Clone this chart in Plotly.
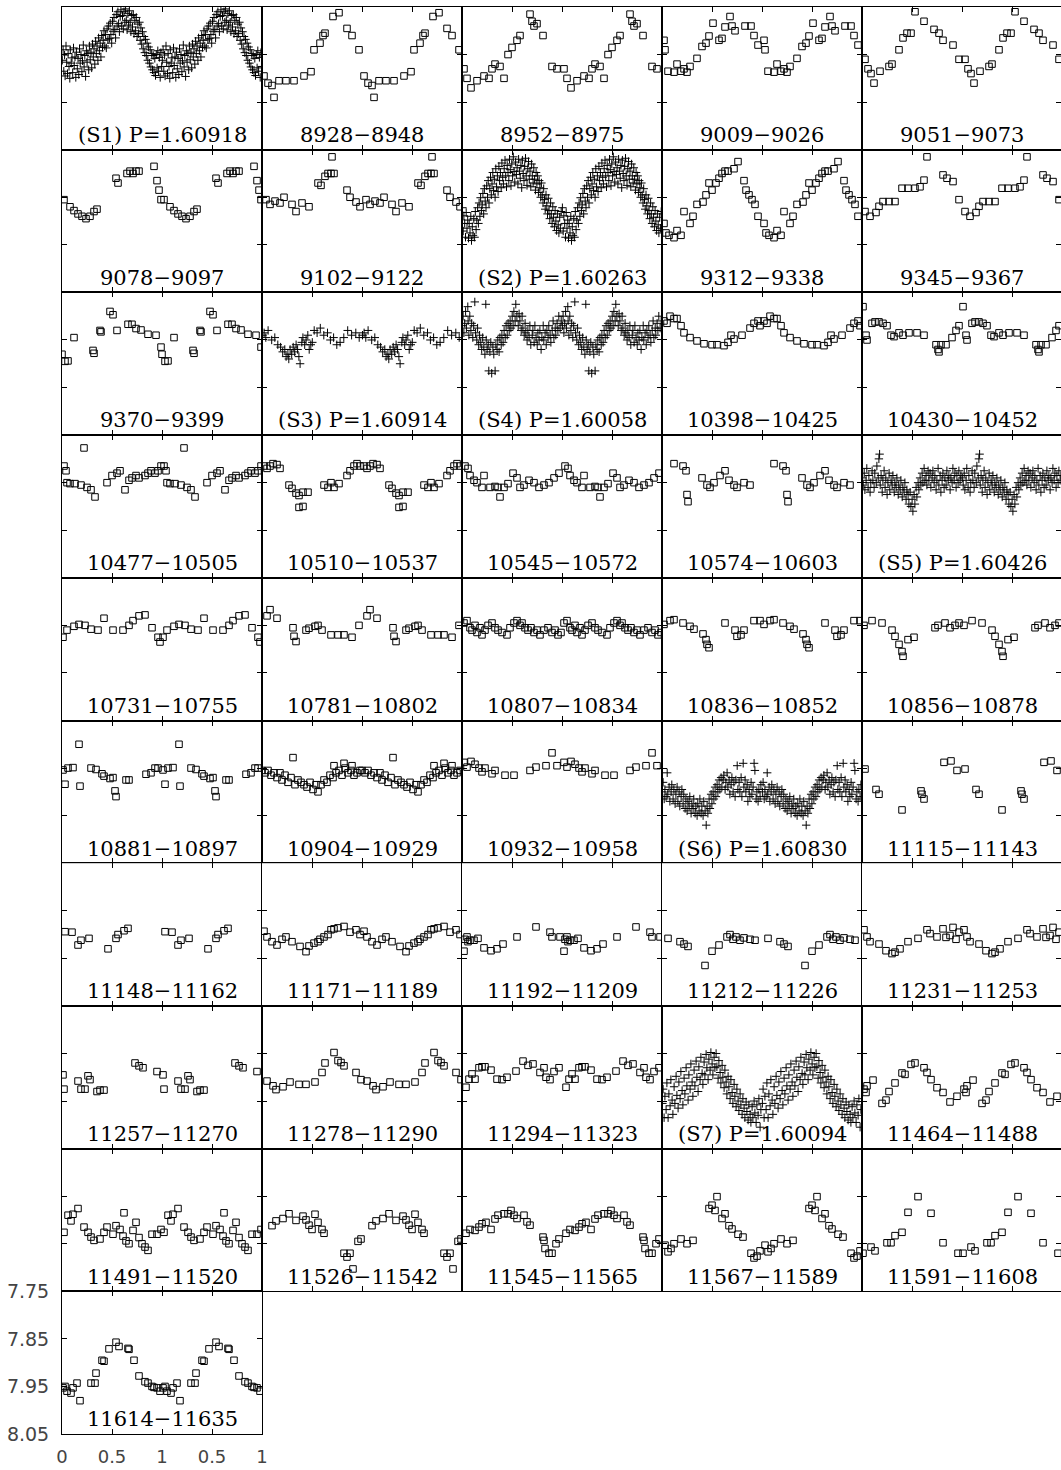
import plotly.graph_objects as go

# ---------------- data: (phase, magnitude) pairs, phase in [0,1); plotted twice (phase and phase+1)
S1 = [(0.003,7.862),(0.011,7.840),(0.018,7.885),(0.026,7.851),(0.031,7.895),(0.040,7.832),(0.047,7.866),(0.055,7.890),
      (0.061,7.848),(0.070,7.875),(0.078,7.900),(0.083,7.840),(0.092,7.868),(0.100,7.857),(0.107,7.888),(0.115,7.836),
      (0.122,7.873),(0.130,7.855),(0.138,7.898),(0.144,7.845),(0.153,7.880),(0.160,7.858),(0.168,7.892),(0.175,7.838),
      (0.182,7.868),(0.190,7.850),(0.199,7.886),(0.205,7.863),(0.213,7.830),(0.221,7.876),(0.228,7.852),(0.236,7.896),
      (0.244,7.842),(0.251,7.866),(0.259,7.848),(0.267,7.882),(0.274,7.832),(0.282,7.861),(0.290,7.845),(0.297,7.878),
      (0.305,7.828),(0.313,7.855),(0.320,7.838),(0.328,7.870),(0.336,7.822),(0.343,7.848),(0.351,7.832),(0.359,7.862),
      (0.366,7.815),(0.374,7.842),(0.382,7.826),(0.389,7.855),(0.397,7.810),(0.405,7.835),(0.412,7.820),(0.420,7.800),
      (0.428,7.832),(0.436,7.808),(0.443,7.836),(0.451,7.796),(0.459,7.819),(0.466,7.790),(0.474,7.816),(0.482,7.784),
      (0.489,7.808),(0.497,7.826),(0.505,7.780),(0.512,7.801),(0.520,7.772),(0.528,7.797),(0.536,7.815),(0.543,7.766),
      (0.551,7.790),(0.559,7.760),(0.566,7.785),(0.574,7.802),(0.582,7.770),(0.589,7.756),(0.597,7.790),(0.605,7.768),
      (0.613,7.796),(0.620,7.760),(0.628,7.782),(0.636,7.754),(0.643,7.778),(0.651,7.798),(0.659,7.764),(0.666,7.788),
      (0.674,7.758),(0.682,7.782),(0.689,7.802),(0.697,7.768),(0.705,7.792),(0.713,7.766),(0.720,7.806),(0.728,7.778),
      (0.736,7.800),(0.743,7.772),(0.751,7.812),(0.759,7.786),(0.766,7.806),(0.774,7.782),(0.782,7.820),(0.789,7.794),
      (0.797,7.828),(0.805,7.802),(0.812,7.838),(0.820,7.812),(0.828,7.846),(0.835,7.818),(0.843,7.852),(0.851,7.826),
      (0.858,7.862),(0.866,7.834),(0.874,7.868),(0.882,7.840),(0.889,7.876),(0.897,7.848),(0.905,7.882),(0.912,7.852),
      (0.920,7.888),(0.928,7.858),(0.935,7.894),(0.943,7.850),(0.951,7.878),(0.958,7.842),(0.966,7.885),(0.974,7.856),
      (0.982,7.898),(0.989,7.846),(0.997,7.875)]
R8928 = [(0.02,7.895),(0.06,7.91),(0.10,7.915),(0.12,7.94),(0.17,7.905),(0.24,7.905),(0.32,7.905),(0.42,7.895),
         (0.49,7.886),(0.52,7.84),(0.58,7.826),(0.61,7.81),(0.63,7.805),(0.71,7.77),(0.77,7.762),(0.85,7.795),
         (0.90,7.81),(0.97,7.84)]
R8952 = [(0.02,7.88),(0.05,7.90),(0.09,7.92),(0.15,7.905),(0.22,7.895),(0.27,7.90),(0.30,7.88),(0.33,7.87),
         (0.38,7.875),(0.42,7.90),(0.46,7.85),(0.50,7.835),(0.55,7.82),(0.58,7.81),(0.68,7.765),(0.70,7.78),
         (0.72,7.79),(0.75,7.785),(0.81,7.81),(0.90,7.875),(0.95,7.88)]
R9009 = [(0.02,7.82),(0.03,7.84),(0.06,7.885),(0.12,7.887),(0.15,7.87),(0.19,7.885),(0.22,7.88),(0.25,7.887),
         (0.28,7.875),(0.35,7.858),(0.40,7.833),(0.44,7.826),(0.47,7.811),(0.51,7.784),(0.57,7.82),(0.60,7.816),
         (0.63,7.792),(0.68,7.77),(0.70,7.79),(0.73,7.80),(0.83,7.79),(0.89,7.79),(0.92,7.81),(0.96,7.83)]
R9051 = [(0.03,7.86),(0.06,7.88),(0.09,7.89),(0.12,7.91),(0.18,7.885),(0.27,7.875),(0.30,7.87),(0.37,7.84),
         (0.41,7.815),(0.45,7.805),(0.49,7.805),(0.53,7.76),(0.62,7.78),(0.72,7.797),(0.77,7.805),(0.81,7.82),
         (0.91,7.83),(0.97,7.86)]
R9078 = [(0.02,7.855),(0.08,7.87),(0.12,7.878),(0.16,7.885),(0.20,7.89),(0.24,7.895),(0.28,7.89),(0.32,7.88),
         (0.35,7.875),(0.54,7.81),(0.56,7.82),(0.65,7.80),(0.68,7.795),(0.71,7.80),(0.74,7.795),(0.77,7.795),
         (0.92,7.785),(0.95,7.815),(0.97,7.835),(0.99,7.855)]
R9102 = [(0.04,7.855),(0.08,7.865),(0.13,7.858),(0.18,7.862),(0.22,7.85),(0.30,7.865),(0.34,7.88),(0.40,7.862),
         (0.47,7.87),(0.56,7.82),(0.59,7.825),(0.63,7.806),(0.66,7.80),(0.69,7.80),(0.70,7.765),(0.72,7.80),
         (0.85,7.835),(0.88,7.85),(0.94,7.86),(0.98,7.87)]
S2 = [(0.004,7.872),(0.012,7.921),(0.019,7.889),(0.027,7.905),(0.035,7.934),(0.042,7.882),(0.050,7.915),(0.057,7.898),
      (0.065,7.936),(0.072,7.905),(0.080,7.925),(0.088,7.890),(0.095,7.941),(0.103,7.912),(0.110,7.930),(0.118,7.895),
      (0.126,7.934),(0.133,7.880),(0.141,7.918),(0.148,7.898),(0.156,7.872),(0.164,7.905),(0.171,7.862),(0.179,7.890),
      (0.186,7.851),(0.194,7.878),(0.202,7.866),(0.209,7.842),(0.217,7.885),(0.224,7.832),(0.232,7.858),(0.240,7.872),
      (0.247,7.826),(0.255,7.850),(0.262,7.815),(0.270,7.862),(0.278,7.832),(0.285,7.808),(0.293,7.845),(0.300,7.822),
      (0.308,7.798),(0.316,7.836),(0.323,7.812),(0.331,7.850),(0.338,7.790),(0.346,7.828),(0.354,7.805),(0.361,7.838),
      (0.369,7.785),(0.376,7.815),(0.384,7.798),(0.392,7.830),(0.399,7.778),(0.407,7.808),(0.414,7.822),(0.422,7.790),
      (0.430,7.772),(0.437,7.805),(0.445,7.828),(0.452,7.783),(0.460,7.798),(0.468,7.815),(0.475,7.770),(0.483,7.792),
      (0.490,7.826),(0.498,7.780),(0.506,7.805),(0.513,7.765),(0.521,7.796),(0.528,7.818),(0.536,7.776),(0.544,7.802),
      (0.551,7.788),(0.559,7.822),(0.566,7.770),(0.574,7.795),(0.582,7.810),(0.589,7.783),(0.597,7.830),(0.604,7.772),
      (0.612,7.800),(0.620,7.815),(0.627,7.785),(0.635,7.768),(0.642,7.805),(0.650,7.825),(0.658,7.790),(0.665,7.775),
      (0.673,7.812),(0.680,7.795),(0.688,7.828),(0.696,7.780),(0.703,7.805),(0.711,7.820),(0.718,7.788),(0.726,7.812),
      (0.734,7.835),(0.741,7.798),(0.749,7.822),(0.756,7.805),(0.764,7.840),(0.772,7.815),(0.779,7.830),(0.787,7.850),
      (0.794,7.820),(0.802,7.845),(0.810,7.862),(0.817,7.832),(0.825,7.855),(0.832,7.875),(0.840,7.845),(0.848,7.868),
      (0.855,7.885),(0.863,7.852),(0.870,7.878),(0.878,7.895),(0.886,7.862),(0.893,7.885),(0.901,7.905),(0.908,7.870),
      (0.916,7.892),(0.924,7.912),(0.931,7.878),(0.939,7.900),(0.946,7.920),(0.954,7.885),(0.962,7.908),(0.969,7.925),
      (0.977,7.892),(0.984,7.915),(0.992,7.880)]
R9312 = [(0.02,7.905),(0.04,7.925),(0.07,7.93),(0.12,7.935),(0.15,7.92),(0.19,7.93),(0.22,7.88),(0.28,7.905),
         (0.31,7.89),(0.35,7.865),(0.41,7.86),(0.44,7.845),(0.47,7.82),(0.50,7.835),(0.54,7.82),(0.57,7.81),
         (0.60,7.80),(0.63,7.795),(0.66,7.795),(0.72,7.79),(0.76,7.775),(0.82,7.815),(0.84,7.835),(0.87,7.845),
         (0.90,7.855),(0.93,7.865),(0.96,7.89)]
R9345 = [(0.03,7.88),(0.08,7.89),(0.14,7.882),(0.17,7.869),(0.21,7.859),(0.27,7.859),(0.33,7.859),(0.40,7.831),
         (0.46,7.831),(0.53,7.831),(0.58,7.828),(0.62,7.814),(0.65,7.765),(0.81,7.803),(0.85,7.81),(0.91,7.817),
         (0.97,7.855)]
R9370 = [(0.00,7.88),(0.03,7.895),(0.06,7.894),(0.12,7.845),(0.31,7.872),(0.32,7.878),(0.38,7.83),(0.39,7.833),
         (0.48,7.79),(0.51,7.797),(0.55,7.83),(0.66,7.817),(0.70,7.817),(0.74,7.826),(0.79,7.829),(0.86,7.838),
         (0.94,7.84),(0.99,7.865)]
S3 = [(0.005,7.84),(0.021,7.835),(0.038,7.845),(0.061,7.83),(0.097,7.85),(0.128,7.845),(0.158,7.86),(0.186,7.865),
      (0.207,7.875),(0.228,7.87),(0.241,7.885),(0.259,7.88),(0.268,7.89),(0.281,7.87),(0.297,7.88),(0.312,7.865),
      (0.327,7.875),(0.341,7.86),(0.356,7.87),(0.369,7.885),(0.381,7.90),(0.398,7.855),(0.409,7.845),(0.427,7.86),
      (0.441,7.85),(0.458,7.84),(0.472,7.87),(0.488,7.86),(0.503,7.855),(0.522,7.83),(0.551,7.835),(0.583,7.825),
      (0.618,7.84),(0.655,7.835),(0.684,7.85),(0.716,7.845),(0.748,7.86),(0.781,7.855),(0.818,7.845),(0.857,7.83),
      (0.896,7.84),(0.938,7.835),(0.972,7.845)]
S4 = [(0.004,7.82),(0.011,7.80),(0.019,7.835),(0.027,7.815),(0.036,7.79),(0.044,7.825),(0.058,7.78),(0.061,7.81),
      (0.069,7.84),(0.078,7.80),(0.089,7.83),(0.097,7.815),(0.108,7.845),(0.117,7.82),(0.128,7.77),(0.136,7.835),
      (0.148,7.85),(0.156,7.825),(0.167,7.86),(0.176,7.84),(0.188,7.855),(0.197,7.87),(0.207,7.845),(0.218,7.865),
      (0.229,7.88),(0.238,7.775),(0.242,7.85),(0.251,7.87),(0.262,7.86),(0.268,7.915),(0.279,7.875),(0.288,7.855),
      (0.297,7.92),(0.309,7.865),(0.318,7.88),(0.331,7.915),(0.339,7.86),(0.351,7.87),(0.358,7.85),(0.371,7.875),
      (0.379,7.845),(0.392,7.86),(0.399,7.84),(0.411,7.855),(0.421,7.83),(0.432,7.845),(0.441,7.82),(0.452,7.84),
      (0.461,7.815),(0.472,7.83),(0.481,7.81),(0.489,7.825),(0.502,7.80),(0.511,7.82),(0.519,7.79),(0.531,7.81),
      (0.538,7.775),(0.549,7.80),(0.562,7.82),(0.571,7.795),(0.579,7.81),(0.592,7.83),(0.601,7.80),(0.609,7.825),
      (0.622,7.84),(0.631,7.815),(0.638,7.835),(0.651,7.85),(0.659,7.83),(0.671,7.845),(0.679,7.82),(0.688,7.86),
      (0.702,7.84),(0.709,7.83),(0.721,7.855),(0.729,7.82),(0.741,7.845),(0.752,7.86),(0.759,7.835),(0.771,7.85),
      (0.779,7.83),(0.791,7.87),(0.799,7.845),(0.812,7.82),(0.818,7.85),(0.831,7.835),(0.842,7.86),(0.849,7.83),
      (0.861,7.845),(0.868,7.82),(0.881,7.84),(0.889,7.855),(0.902,7.83),(0.911,7.81),(0.919,7.845),(0.932,7.825),
      (0.938,7.84),(0.951,7.815),(0.959,7.83),(0.968,7.80),(0.981,7.825),(0.992,7.81)]
R10398 = [(0.02,7.81),(0.05,7.815),(0.08,7.80),(0.12,7.805),(0.15,7.805),(0.19,7.82),(0.22,7.835),(0.28,7.845),
          (0.35,7.852),(0.42,7.858),(0.50,7.86),(0.55,7.86),(0.62,7.862),(0.66,7.855),(0.69,7.84),(0.72,7.848),
          (0.80,7.84),(0.88,7.825),(0.92,7.815),(0.96,7.81),(0.98,7.82)]
R10430 = [(0.01,7.78),(0.04,7.84),(0.05,7.85),(0.10,7.815),(0.13,7.812),(0.17,7.812),(0.21,7.815),(0.25,7.82),
          (0.29,7.84),(0.32,7.843),(0.37,7.835),(0.41,7.84),(0.47,7.835),(0.55,7.835),(0.62,7.84),(0.74,7.86),
          (0.76,7.87),(0.77,7.875),(0.79,7.86),(0.84,7.86),(0.90,7.845),(0.94,7.83),(0.97,7.82)]
R10477 = [(0.02,7.815),(0.04,7.825),(0.05,7.85),(0.08,7.852),(0.13,7.852),(0.19,7.855),(0.22,7.777),(0.25,7.86),
          (0.29,7.865),(0.33,7.88),(0.45,7.85),(0.50,7.835),(0.55,7.83),(0.58,7.825),(0.63,7.865),(0.67,7.845),
          (0.70,7.84),(0.74,7.835),(0.77,7.84),(0.83,7.835),(0.86,7.83),(0.89,7.825),(0.93,7.83),(0.96,7.825),
          (0.99,7.815)]
R10510 = [(0.02,7.815),(0.05,7.82),(0.08,7.815),(0.11,7.81),(0.15,7.812),(0.18,7.82),(0.27,7.855),(0.30,7.862),
          (0.34,7.872),(0.37,7.877),(0.37,7.902),(0.41,7.90),(0.41,7.87),(0.46,7.87),(0.62,7.855),(0.66,7.86),
          (0.69,7.85),(0.72,7.86),(0.77,7.852),(0.85,7.835),(0.88,7.825),(0.92,7.815),(0.95,7.81),(0.98,7.815)]
R10545 = [(0.03,7.815),(0.06,7.82),(0.08,7.835),(0.12,7.845),(0.15,7.85),(0.20,7.86),(0.22,7.835),(0.28,7.86),
          (0.33,7.858),(0.36,7.86),(0.38,7.88),(0.42,7.86),(0.46,7.852),(0.51,7.83),(0.55,7.84),(0.58,7.86),
          (0.62,7.855),(0.67,7.845),(0.72,7.85),(0.77,7.86),(0.82,7.855),(0.87,7.85),(0.92,7.84),(0.97,7.83)]
R10574 = [(0.12,7.81),(0.21,7.815),(0.24,7.825),(0.25,7.875),(0.26,7.89),(0.40,7.84),(0.45,7.855),(0.48,7.86),
          (0.52,7.85),(0.58,7.835),(0.63,7.825),(0.67,7.845),(0.72,7.855),(0.75,7.86),(0.82,7.85),(0.88,7.855)]
S5 = [(0.003,7.84),(0.012,7.855),(0.022,7.83),(0.029,7.865),(0.041,7.845),(0.048,7.82),(0.061,7.86),(0.069,7.835),
      (0.081,7.87),(0.088,7.85),(0.101,7.825),(0.109,7.845),(0.121,7.86),(0.128,7.83),(0.142,7.85),(0.149,7.815),
      (0.162,7.84),(0.169,7.80),(0.176,7.79),(0.182,7.855),(0.191,7.835),(0.202,7.87),(0.209,7.845),(0.221,7.825),
      (0.231,7.86),(0.238,7.84),(0.251,7.875),(0.259,7.85),(0.271,7.83),(0.278,7.865),(0.291,7.845),(0.301,7.855),
      (0.309,7.835),(0.322,7.87),(0.329,7.85),(0.341,7.86),(0.349,7.84),(0.362,7.875),(0.368,7.855),(0.381,7.865),
      (0.389,7.845),(0.402,7.88),(0.409,7.86),(0.421,7.87),(0.429,7.85),(0.441,7.885),(0.449,7.865),(0.461,7.875),
      (0.469,7.895),(0.481,7.87),(0.489,7.90),(0.501,7.885),(0.509,7.91),(0.521,7.875),(0.529,7.895),(0.541,7.86),
      (0.549,7.88),(0.561,7.85),(0.569,7.865),(0.581,7.84),(0.589,7.855),(0.601,7.83),(0.609,7.85),(0.621,7.82),
      (0.629,7.845),(0.641,7.835),(0.649,7.855),(0.661,7.825),(0.669,7.845),(0.681,7.83),(0.689,7.86),(0.701,7.84),
      (0.709,7.825),(0.721,7.85),(0.729,7.835),(0.741,7.865),(0.749,7.845),(0.761,7.82),(0.769,7.855),(0.781,7.835),
      (0.789,7.87),(0.801,7.845),(0.809,7.83),(0.821,7.86),(0.829,7.84),(0.841,7.855),(0.849,7.825),(0.861,7.845),
      (0.869,7.835),(0.881,7.865),(0.889,7.84),(0.901,7.85),(0.909,7.82),(0.921,7.845),(0.929,7.83),(0.941,7.86),
      (0.949,7.835),(0.961,7.85),(0.969,7.825),(0.981,7.845),(0.989,7.835)]
R10731 = [(0.01,7.875),(0.05,7.86),(0.12,7.852),(0.17,7.848),(0.23,7.85),(0.29,7.858),(0.36,7.86),(0.42,7.835),
          (0.51,7.86),(0.61,7.86),(0.67,7.85),(0.71,7.84),(0.77,7.83),(0.83,7.828),(0.90,7.855),(0.96,7.875),
          (0.98,7.885)]
R10781 = [(0.05,7.83),(0.08,7.817),(0.15,7.835),(0.31,7.855),(0.32,7.873),(0.34,7.884),(0.44,7.86),(0.47,7.856),
          (0.53,7.852),(0.56,7.85),(0.60,7.86),(0.69,7.87),(0.76,7.87),(0.82,7.87),(0.90,7.875),(0.97,7.85)]
R10807 = [(0.02,7.845),(0.05,7.84),(0.08,7.855),(0.10,7.86),(0.13,7.85),(0.15,7.865),(0.18,7.855),(0.20,7.87),
          (0.23,7.86),(0.26,7.85),(0.30,7.845),(0.33,7.855),(0.36,7.86),(0.40,7.865),(0.45,7.87),(0.48,7.855),
          (0.52,7.845),(0.55,7.84),(0.58,7.85),(0.60,7.845),(0.63,7.855),(0.66,7.86),(0.69,7.855),(0.72,7.865),
          (0.75,7.86),(0.78,7.87),(0.82,7.86),(0.86,7.855),(0.90,7.865),(0.93,7.86),(0.96,7.87),(0.99,7.865)]
R10836 = [(0.02,7.848),(0.08,7.84),(0.12,7.838),(0.21,7.845),(0.28,7.852),(0.32,7.858),(0.41,7.868),(0.44,7.88),
          (0.45,7.89),(0.47,7.897),(0.63,7.845),(0.73,7.86),(0.75,7.873),(0.79,7.87),(0.82,7.86),(0.92,7.84),
          (0.98,7.84)]
R10856 = [(0.02,7.85),(0.10,7.84),(0.20,7.845),(0.30,7.86),(0.33,7.873),(0.37,7.89),(0.40,7.905),(0.41,7.915),
          (0.46,7.88),(0.52,7.875),(0.73,7.855),(0.76,7.85),(0.83,7.845),(0.88,7.855),(0.93,7.85),(0.97,7.845)]
R10881 = [(0.01,7.854),(0.03,7.884),(0.06,7.85),(0.11,7.849),(0.17,7.80),(0.18,7.888),(0.29,7.85),(0.34,7.853),
          (0.40,7.862),(0.42,7.867),(0.48,7.872),(0.51,7.87),(0.53,7.898),(0.54,7.91),(0.64,7.875),(0.67,7.875),
          (0.84,7.863),(0.89,7.86),(0.93,7.85),(0.96,7.85)]
R10904 = [(0.00,7.855),(0.03,7.86),(0.06,7.855),(0.09,7.865),(0.12,7.86),(0.15,7.87),(0.18,7.86),(0.20,7.875),
          (0.23,7.865),(0.26,7.88),(0.29,7.87),(0.31,7.828),(0.33,7.885),(0.36,7.875),(0.39,7.88),(0.42,7.885),
          (0.45,7.89),(0.48,7.88),(0.51,7.895),(0.54,7.885),(0.56,7.90),(0.59,7.885),(0.62,7.875),(0.65,7.88),
          (0.68,7.865),(0.71,7.87),(0.72,7.845),(0.74,7.86),(0.77,7.855),(0.80,7.865),(0.82,7.84),(0.83,7.85),
          (0.86,7.86),(0.89,7.855),(0.90,7.845),(0.92,7.865),(0.95,7.86),(0.98,7.855)]
R10932 = [(0.02,7.838),(0.05,7.848),(0.09,7.836),(0.13,7.842),(0.17,7.85),(0.20,7.858),(0.23,7.85),(0.30,7.862),
          (0.33,7.855),(0.43,7.865),(0.52,7.865),(0.68,7.855),(0.74,7.848),(0.84,7.845),(0.90,7.818),(0.95,7.845)]
S6 = [(0.004,7.90),(0.011,7.88),(0.022,7.915),(0.029,7.895),(0.041,7.91),(0.052,7.86),(0.058,7.905),(0.071,7.89),
      (0.079,7.92),(0.091,7.90),(0.098,7.885),(0.111,7.915),(0.119,7.895),(0.131,7.925),(0.139,7.905),(0.151,7.89),
      (0.159,7.92),(0.171,7.90),(0.178,7.93),(0.191,7.91),(0.199,7.895),(0.211,7.925),(0.218,7.905),(0.231,7.935),
      (0.239,7.915),(0.251,7.94),(0.259,7.92),(0.271,7.93),(0.278,7.91),(0.291,7.945),(0.299,7.925),(0.311,7.935),
      (0.318,7.915),(0.331,7.945),(0.339,7.93),(0.351,7.95),(0.358,7.925),(0.371,7.94),(0.379,7.915),(0.391,7.945),
      (0.399,7.93),(0.411,7.95),(0.418,7.92),(0.431,7.94),(0.442,7.97),(0.451,7.93),(0.459,7.945),(0.471,7.915),
      (0.479,7.935),(0.491,7.905),(0.499,7.925),(0.511,7.90),(0.519,7.915),(0.531,7.89),(0.539,7.91),(0.551,7.885),
      (0.559,7.90),(0.571,7.875),(0.579,7.895),(0.591,7.87),(0.599,7.89),(0.611,7.875),(0.619,7.865),(0.631,7.895),
      (0.639,7.88),(0.651,7.86),(0.659,7.89),(0.671,7.875),(0.679,7.905),(0.691,7.885),(0.699,7.87),(0.711,7.90),
      (0.719,7.88),(0.731,7.91),(0.739,7.875),(0.752,7.845),(0.759,7.895),(0.771,7.88),(0.779,7.90),(0.791,7.87),
      (0.799,7.91),(0.812,7.84),(0.819,7.89),(0.831,7.875),(0.839,7.90),(0.851,7.885),(0.859,7.92),(0.871,7.895),
      (0.879,7.91),(0.891,7.88),(0.899,7.905),(0.911,7.89),(0.921,7.84),(0.929,7.855),(0.941,7.915),(0.949,7.90),
      (0.961,7.92),(0.969,7.895),(0.981,7.91),(0.989,7.885)]
R11115 = [(0.03,7.852),(0.14,7.895),(0.17,7.905),(0.40,7.938),(0.59,7.898),(0.60,7.905),(0.62,7.915),(0.82,7.838),
          (0.89,7.835),(0.95,7.855)]
R11148 = [(0.03,7.894),(0.10,7.895),(0.16,7.922),(0.19,7.912),(0.27,7.908),(0.46,7.93),(0.54,7.908),(0.56,7.90),
          (0.62,7.892),(0.66,7.887)]
R11171 = [(0.02,7.893),(0.05,7.905),(0.10,7.915),(0.15,7.922),(0.20,7.91),(0.24,7.905),(0.30,7.915),(0.38,7.925),
          (0.44,7.936),(0.47,7.924),(0.52,7.918),(0.56,7.915),(0.58,7.91),(0.62,7.905),(0.66,7.90),(0.69,7.89),
          (0.72,7.888),(0.76,7.886),(0.82,7.883),(0.88,7.895),(0.94,7.89),(0.98,7.90)]
R11192 = [(0.02,7.935),(0.03,7.91),(0.05,7.905),(0.06,7.915),(0.08,7.912),(0.12,7.912),(0.16,7.908),(0.22,7.928),
          (0.29,7.934),(0.35,7.93),(0.41,7.92),(0.55,7.905),(0.74,7.884),(0.88,7.895),(0.90,7.905),(0.98,7.905)]
R11212 = [(0.06,7.908),(0.18,7.915),(0.22,7.92),(0.26,7.925),(0.43,7.965),(0.50,7.935),(0.57,7.922),(0.65,7.905),
          (0.68,7.90),(0.71,7.91),(0.74,7.905),(0.78,7.912),(0.82,7.907),(0.88,7.91),(0.93,7.912)]
R11231 = [(0.02,7.89),(0.05,7.905),(0.08,7.915),(0.17,7.92),(0.24,7.934),(0.30,7.94),(0.33,7.937),(0.38,7.93),
          (0.46,7.915),(0.56,7.908),(0.65,7.89),(0.68,7.898),(0.75,7.905),(0.81,7.888),(0.84,7.906),(0.88,7.902),
          (0.91,7.885),(0.94,7.91),(0.97,7.895)]
R11257 = [(0.01,7.895),(0.02,7.925),(0.16,7.908),(0.19,7.925),(0.23,7.925),(0.26,7.897),(0.28,7.905),(0.35,7.93),
          (0.38,7.927),(0.42,7.927),(0.73,7.87),(0.77,7.876),(0.81,7.88),(0.95,7.888)]
R11278 = [(0.05,7.908),(0.11,7.918),(0.14,7.926),(0.21,7.92),(0.28,7.91),(0.37,7.915),(0.44,7.915),(0.53,7.91),
          (0.60,7.89),(0.63,7.87),(0.72,7.848),(0.76,7.865),(0.79,7.869),(0.82,7.876),(0.94,7.89),(0.99,7.905)]
R11294 = [(0.04,7.921),(0.07,7.904),(0.10,7.893),(0.13,7.904),(0.17,7.88),(0.20,7.878),(0.23,7.878),(0.29,7.885),
          (0.35,7.904),(0.40,7.905),(0.45,7.90),(0.54,7.887),(0.61,7.866),(0.66,7.875),(0.71,7.872),(0.78,7.89),
          (0.82,7.88),(0.84,7.90),(0.88,7.905),(0.92,7.888),(0.97,7.88)]
S7 = [(0.004,7.955),(0.011,7.925),(0.021,7.985),(0.029,7.940),(0.041,7.968),(0.049,7.912),(0.061,7.985),(0.069,7.935),
      (0.081,7.960),(0.089,7.905),(0.101,7.948),(0.109,7.978),(0.121,7.920),(0.129,7.955),(0.141,7.898),(0.149,7.938),
      (0.161,7.965),(0.169,7.910),(0.181,7.945),(0.189,7.888),(0.201,7.928),(0.209,7.958),(0.221,7.902),(0.229,7.935),
      (0.241,7.880),(0.249,7.918),(0.261,7.948),(0.269,7.895),(0.281,7.925),(0.289,7.872),(0.301,7.910),(0.309,7.940),
      (0.321,7.885),(0.329,7.918),(0.341,7.866),(0.349,7.900),(0.361,7.930),(0.369,7.878),(0.381,7.905),(0.389,7.858),
      (0.401,7.892),(0.409,7.915),(0.421,7.868),(0.429,7.895),(0.441,7.852),(0.449,7.880),(0.461,7.905),(0.469,7.862),
      (0.481,7.885),(0.489,7.848),(0.501,7.872),(0.509,7.895),(0.521,7.858),(0.529,7.880),(0.541,7.850),(0.549,7.878),
      (0.561,7.902),(0.569,7.865),(0.581,7.890),(0.589,7.912),(0.601,7.875),(0.609,7.900),(0.621,7.922),(0.629,7.885),
      (0.641,7.910),(0.649,7.935),(0.661,7.898),(0.669,7.920),(0.681,7.945),(0.689,7.905),(0.701,7.932),(0.709,7.955),
      (0.721,7.915),(0.729,7.940),(0.741,7.962),(0.749,7.925),(0.761,7.950),(0.769,7.970),(0.781,7.935),(0.789,7.958),
      (0.801,7.978),(0.809,7.945),(0.821,7.965),(0.829,7.985),(0.841,7.952),(0.849,7.972),(0.861,7.990),(0.869,7.958),
      (0.881,7.978),(0.889,7.995),(0.901,7.962),(0.909,7.985),(0.921,7.950),(0.929,7.975),(0.941,7.995),(0.949,7.958),
      (0.961,7.980),(0.969,7.945),(0.981,8.005),(0.989,7.968)]
R11464 = [(0.02,7.925),(0.04,7.932),(0.05,7.918),(0.11,7.906),(0.20,7.955),(0.24,7.948),(0.27,7.93),(0.33,7.912),
          (0.40,7.891),(0.43,7.894),(0.49,7.873),(0.53,7.87),(0.62,7.88),(0.65,7.89),(0.69,7.905),(0.75,7.922),
          (0.81,7.932),(0.88,7.952),(0.95,7.94)]
R11491 = [(0.02,7.926),(0.06,7.89),(0.09,7.902),(0.11,7.888),(0.16,7.876),(0.22,7.915),(0.26,7.926),(0.29,7.936),
          (0.32,7.943),(0.38,7.94),(0.42,7.926),(0.45,7.915),(0.51,7.93),(0.54,7.912),(0.58,7.92),(0.61,7.934),
          (0.62,7.885),(0.64,7.944),(0.67,7.95),(0.71,7.922),(0.74,7.905),(0.77,7.937),(0.80,7.95),(0.83,7.957),
          (0.86,7.964),(0.90,7.93),(0.95,7.93),(0.99,7.92)]
R11526 = [(0.10,7.912),(0.14,7.902),(0.21,7.897),(0.27,7.887),(0.34,7.901),(0.41,7.892),(0.44,7.90),(0.47,7.911),
          (0.50,7.92),(0.53,7.888),(0.56,7.905),(0.60,7.92),(0.62,7.928),(0.82,7.97),(0.85,7.978),(0.88,7.97),
          (0.91,8.003),(0.96,7.945),(0.99,7.94)]
R11545 = [(0.04,7.928),(0.08,7.92),(0.13,7.922),(0.17,7.915),(0.20,7.908),(0.24,7.905),(0.29,7.92),(0.33,7.898),
          (0.36,7.89),(0.42,7.887),(0.46,7.887),(0.49,7.88),(0.52,7.89),(0.55,7.897),(0.62,7.89),(0.65,7.904),
          (0.68,7.911),(0.81,7.936),(0.82,7.943),(0.83,7.96),(0.87,7.97),(0.90,7.97),(0.94,7.95),(0.97,7.94)]
R11567 = [(0.03,7.953),(0.06,7.967),(0.09,7.96),(0.12,7.95),(0.19,7.94),(0.25,7.95),(0.31,7.943),(0.47,7.876),
          (0.50,7.869),(0.53,7.88),(0.55,7.851),(0.60,7.897),(0.63,7.887),(0.67,7.912),(0.70,7.919),(0.76,7.93),
          (0.81,7.936),(0.89,7.97),(0.92,7.98),(0.95,7.976),(0.98,7.965)]
R11591 = [(0.01,7.97),(0.09,7.957),(0.13,7.965),(0.25,7.948),(0.29,7.948),(0.33,7.933),(0.40,7.926),(0.46,7.884),
          (0.56,7.851),(0.69,7.886),(0.81,7.948),(0.96,7.97)]
R11614 = [(0.01,7.953),(0.03,7.95),(0.05,7.96),(0.09,7.964),(0.11,7.953),(0.15,7.943),(0.18,7.98),(0.29,7.943),
          (0.33,7.943),(0.34,7.922),(0.40,7.895),(0.42,7.897),(0.47,7.871),(0.54,7.857),(0.57,7.866),(0.66,7.87),
          (0.67,7.872),(0.72,7.895),(0.77,7.928),(0.83,7.94),(0.86,7.943),(0.90,7.95),(0.92,7.952),(0.95,7.953),
          (0.98,7.96)]

panel_labels = ["(S1) P=1.60918", "8928−8948", "8952−8975", "9009−9026", "9051−9073",
                "9078−9097", "9102−9122", "(S2) P=1.60263", "9312−9338", "9345−9367",
                "9370−9399", "(S3) P=1.60914", "(S4) P=1.60058", "10398−10425", "10430−10452",
                "10477−10505", "10510−10537", "10545−10572", "10574−10603", "(S5) P=1.60426",
                "10731−10755", "10781−10802", "10807−10834", "10836−10852", "10856−10878",
                "10881−10897", "10904−10929", "10932−10958", "(S6) P=1.60830", "11115−11143",
                "11148−11162", "11171−11189", "11192−11209", "11212−11226", "11231−11253",
                "11257−11270", "11278−11290", "11294−11323", "(S7) P=1.60094", "11464−11488",
                "11491−11520", "11526−11542", "11545−11565", "11567−11589", "11591−11608",
                "11614−11635"]
panel_data = [S1, R8928, R8952, R9009, R9051, R9078, R9102, S2, R9312, R9345,
              R9370, S3, S4, R10398, R10430, R10477, R10510, R10545, R10574, S5,
              R10731, R10781, R10807, R10836, R10856, R10881, R10904, R10932, S6, R11115,
              R11148, R11171, R11192, R11212, R11231, R11257, R11278, R11294, S7, R11464,
              R11491, R11526, R11545, R11567, R11591, R11614]

x_tick_vals = [0, 0.5, 1, 1.5, 2]
x_tick_text = ["0", "0.5", "1", "0.5", "1"]
y_tick_vals = [7.75, 7.85, 7.95, 8.05]
y_tick_text = ["7.75", "7.85", "7.95", "8.05"]

# ---------------- layout geometry
W, H = 1061, 1470
L0, T0, PW, PH = 62, 7, 200, 142.7
NCOL = 5

fig = go.Figure()
layout = dict(width=W, height=H, margin=dict(l=0, r=0, t=0, b=0, pad=0), autosize=False,
              paper_bgcolor="white", plot_bgcolor="white", showlegend=False)
annotations = []

for i, (lab, data) in enumerate(zip(panel_labels, panel_data)):
    r, c = divmod(i, NCOL)
    k = i + 1
    xs = "" if k == 1 else str(k)
    px0 = L0 + PW * c
    px1 = min(px0 + PW, W)
    ytop = T0 + PH * r
    ybot = ytop + PH
    ph = [p for p, _ in data]
    mg = [m for _, m in data]
    is_plus = lab.startswith("(S")
    marker = (dict(symbol="cross-thin-open", size=6, color="black", line=dict(color="black", width=1))
              if is_plus else
              dict(symbol="square-open", size=6.5, color="black", line=dict(color="black", width=1)))
    fig.add_trace(go.Scatter(x=ph + [p + 1 for p in ph], y=mg + mg, mode="markers",
                             marker=marker, xaxis="x" + xs, yaxis="y" + xs,
                             hoverinfo="skip", cliponaxis=True))
    last = (i == len(panel_labels) - 1)
    xax = dict(domain=[px0 / W, px1 / W], range=[0, 2 * (px1 - px0) / PW], anchor="y" + xs,
               automargin=False,
               showgrid=False, zeroline=False, showline=True, linecolor="black", linewidth=1,
               mirror="ticks", ticks="inside", ticklen=5, tickwidth=1, tickcolor="black",
               tickvals=[0.5, 1, 1.5], showticklabels=False, fixedrange=True)
    yax = dict(domain=[1 - ybot / H, 1 - ytop / H], range=[8.05, 7.75], anchor="x" + xs,
               automargin=False,
               showgrid=False, zeroline=False, showline=True, linecolor="black", linewidth=1,
               mirror="ticks", ticks="inside", ticklen=5, tickwidth=1, tickcolor="black",
               tickvals=[7.85, 7.95], showticklabels=False, fixedrange=True)
    if last:
        xax.update(tickvals=x_tick_vals, ticktext=x_tick_text, showticklabels=True,
                   tickfont=dict(family="DejaVu Sans", size=18, color="#444"), ticklabelstandoff=6)
        yax.update(tickvals=y_tick_vals, ticktext=y_tick_text, showticklabels=True,
                   tickfont=dict(family="DejaVu Sans", size=19, color="#444"), ticklabelstandoff=8)
    layout["xaxis" + xs] = xax
    layout["yaxis" + xs] = yax
    annotations.append(dict(text=lab, x=1.0, xref="x" + xs, y=1 - 128 / PH, yref="y" + xs + " domain",
                            xanchor="center", yanchor="middle", showarrow=False,
                            font=dict(family="DejaVu Serif", size=21, color="black")))

layout["annotations"] = annotations
fig.update_layout(**layout)
fig.write_html("out.html")
